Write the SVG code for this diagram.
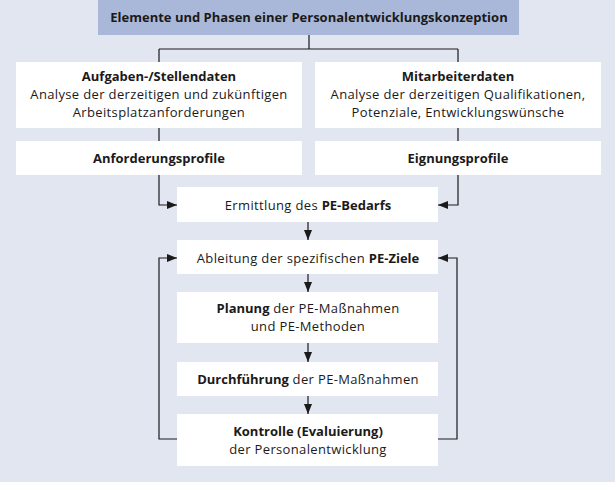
<svg xmlns="http://www.w3.org/2000/svg" width="615" height="482" viewBox="0 0 615 482">
<defs>
<marker id="ah" viewBox="0 0 10 8" refX="10" refY="4" markerWidth="10" markerHeight="8" markerUnits="userSpaceOnUse" orient="auto">
<path d="M0,0 L10,4 L0,8 Z" fill="#1a1a1a"/>
</marker>
<style>
.box{fill:#ffffff}
.t{font-family:"Open Sans","Noto Sans",sans-serif;font-size:13px;letter-spacing:0.35px;fill:#1a1a1a;text-anchor:middle}
.b{font-weight:bold;letter-spacing:0}
.ln{fill:none;stroke:#1a1a1a;stroke-width:1.2}
</style>
</defs>
<rect x="0" y="0" width="615" height="482" fill="#e2e6f1"/>
<g id="connectors">
<path class="ln" d="M309,35 V49 M159,49 H458 M159,49 V62 M458,49 V62"/>
<path class="ln" d="M159,128 V141 M458,128 V141"/>
<path class="ln" d="M159,175 V205 H177" marker-end="url(#ah)"/>
<path class="ln" d="M458,175 V205 H438" marker-end="url(#ah)"/>
<path class="ln" d="M308,222 V240" marker-end="url(#ah)"/>
<path class="ln" d="M308,274 V292" marker-end="url(#ah)"/>
<path class="ln" d="M308,343 V362" marker-end="url(#ah)"/>
<path class="ln" d="M308,396 V414" marker-end="url(#ah)"/>
<path class="ln" d="M177,439 H159 V258 H177" marker-end="url(#ah)"/>
<path class="ln" d="M438,439 H457 V258 H438" marker-end="url(#ah)"/>
</g>
<g id="title">
<rect x="98" y="0" width="421" height="35" fill="#a9b8d8"/>
<text class="t b" x="309" y="22">Elemente und Phasen einer Personalentwicklungskonzeption</text>
</g>
<g id="aufgaben">
<rect class="box" x="16" y="62" width="286" height="66"/>
<text class="t" x="159" y="81"><tspan class="b">Aufgaben-/Stellendaten</tspan><tspan x="159" dy="18">Analyse der derzeitigen und zukünftigen</tspan><tspan x="159" dy="18">Arbeitsplatzanforderungen</tspan></text>
</g>
<g id="mitarbeiter">
<rect class="box" x="315" y="62" width="286" height="66"/>
<text class="t" x="458" y="81"><tspan class="b">Mitarbeiterdaten</tspan><tspan x="458" dy="18">Analyse der derzeitigen Qualifikationen,</tspan><tspan x="458" dy="18">Potenziale, Entwicklungswünsche</tspan></text>
</g>
<g id="anforderung">
<rect class="box" x="16" y="141" width="286" height="34"/>
<text class="t b" x="159" y="163">Anforderungsprofile</text>
</g>
<g id="eignung">
<rect class="box" x="315" y="141" width="286" height="34"/>
<text class="t b" x="458" y="163">Eignungsprofile</text>
</g>
<g id="ermittlung">
<rect class="box" x="177" y="187" width="261" height="35"/>
<text class="t" x="308" y="210">Ermittlung des <tspan class="b">PE-Bedarfs</tspan></text>
</g>
<g id="ableitung">
<rect class="box" x="177" y="240" width="261" height="34"/>
<text class="t" x="308" y="263">Ableitung der spezifischen <tspan class="b">PE-Ziele</tspan></text>
</g>
<g id="planung">
<rect class="box" x="177" y="292" width="261" height="51"/>
<text class="t" x="308" y="313"><tspan class="b">Planung</tspan> der PE-Maßnahmen<tspan x="308" dy="18">und PE-Methoden</tspan></text>
</g>
<g id="durchfuehrung">
<rect class="box" x="177" y="362" width="261" height="34"/>
<text class="t" x="308" y="384"><tspan class="b">Durchführung</tspan> der PE-Maßnahmen</text>
</g>
<g id="kontrolle">
<rect class="box" x="177" y="414" width="261" height="52"/>
<text class="t" x="308" y="436"><tspan class="b">Kontrolle (Evaluierung)</tspan><tspan x="308" dy="18">der Personalentwicklung</tspan></text>
</g>
</svg>
